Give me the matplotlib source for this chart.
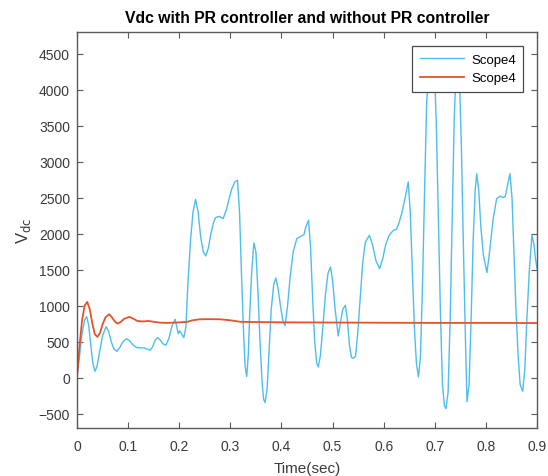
"""Vdc with and without PR controller, MATLAB scope style."""

import matplotlib
import matplotlib.pyplot as plt
import numpy as np

matplotlib.use("agg")

# blue trace (without PR controller)
t_blue = [
    0.000, 0.005, 0.010, 0.015, 0.019, 0.023, 0.027, 0.031, 0.035, 0.039,
    0.044, 0.050, 0.057, 0.062, 0.067, 0.072, 0.078, 0.084, 0.090, 0.097,
    0.103, 0.110, 0.117, 0.125, 0.132, 0.138, 0.143, 0.148, 0.153, 0.158,
    0.163, 0.168, 0.174, 0.180, 0.186, 0.192, 0.196, 0.198, 0.201, 0.205,
    0.209, 0.213, 0.217, 0.222, 0.227, 0.232, 0.237, 0.242, 0.247, 0.252,
    0.257, 0.262, 0.267, 0.271, 0.278, 0.286, 0.293, 0.298, 0.303, 0.309,
    0.314, 0.318, 0.322, 0.326, 0.329, 0.332, 0.335, 0.338, 0.342, 0.346,
    0.350, 0.354, 0.358, 0.362, 0.365, 0.368, 0.372, 0.376, 0.380, 0.385,
    0.389, 0.393, 0.398, 0.403, 0.407, 0.412, 0.417, 0.423, 0.430, 0.437,
    0.444, 0.448, 0.453, 0.457, 0.461, 0.465, 0.469, 0.472, 0.476, 0.481,
    0.486, 0.491, 0.496, 0.500, 0.505, 0.511, 0.515, 0.520, 0.525, 0.529,
    0.533, 0.537, 0.541, 0.545, 0.549, 0.554, 0.559, 0.564, 0.572, 0.578,
    0.585, 0.592, 0.598, 0.604, 0.611, 0.619, 0.625, 0.630, 0.636, 0.642,
    0.648, 0.652, 0.656, 0.660, 0.664, 0.668, 0.672, 0.676, 0.680, 0.684,
    0.689, 0.694, 0.699, 0.703, 0.707, 0.711, 0.715, 0.719, 0.722, 0.726,
    0.730, 0.734, 0.738, 0.742, 0.745, 0.748, 0.752, 0.756, 0.760, 0.763,
    0.767, 0.771, 0.775, 0.779, 0.782, 0.786, 0.790, 0.795, 0.802, 0.808,
    0.814, 0.821, 0.828, 0.834, 0.838, 0.843, 0.847, 0.851, 0.855, 0.859,
    0.863, 0.867, 0.872, 0.876, 0.880, 0.885, 0.890, 0.894, 0.897, 0.900,
]
v_blue = [
    0, 300, 620, 800, 847, 720, 450, 200, 88, 150,
    350, 580, 708, 640, 500, 400, 365, 420, 500, 542,
    510, 450, 417, 415, 412, 395, 380, 430, 520, 555,
    520, 470, 450, 550, 720, 810, 680, 611, 650, 600,
    555, 700, 1300, 1900, 2300, 2477, 2300, 1950, 1750, 1690,
    1800, 2000, 2150, 2222, 2240, 2208, 2350, 2500, 2625, 2720,
    2740, 2300, 1400, 600, 150, 14, 300, 900, 1500, 1870,
    1750, 1200, 500, -50, -300, -347, -150, 400, 950, 1300,
    1384, 1250, 1000, 780, 722, 1000, 1400, 1750, 1930, 1960,
    1986, 2100, 2185, 1800, 1100, 500, 200, 148, 300, 700,
    1150, 1450, 1537, 1350, 950, 579, 750, 950, 1004, 800,
    450, 280, 270, 300, 600, 1100, 1600, 1880, 1977, 1850,
    1620, 1514, 1650, 1850, 1980, 2046, 2060, 2150, 2300, 2500,
    2718, 2300, 1500, 700, 200, 9, 300, 1300, 2600, 3800,
    4450, 4550, 4350, 3500, 2200, 900, -100, -400, -430, -200,
    800, 2200, 3600, 4350, 4450, 4200, 3200, 1800, 500, -338,
    -100, 800, 1900, 2600, 2833, 2600, 2100, 1700, 1458, 1800,
    2200, 2486, 2520, 2500, 2520, 2700, 2833, 2500, 1700, 900,
    300, -100, -190, 100, 800, 1500, 1977, 1850, 1650, 1514,
]

# red trace (with PR controller)
t_red = [
    0.000, 0.005, 0.010, 0.015, 0.020, 0.025, 0.030, 0.035, 0.040, 0.045,
    0.050, 0.056, 0.063, 0.068, 0.074, 0.079, 0.085, 0.092, 0.102, 0.110,
    0.117, 0.123, 0.130, 0.140, 0.150, 0.162, 0.175, 0.194, 0.205, 0.215,
    0.225, 0.240, 0.260, 0.280, 0.300, 0.320, 0.350, 0.400, 0.500, 0.600,
    0.700, 0.800, 0.900,
]
v_red = [
    0, 450, 800, 1000, 1051, 950, 750, 600, 565, 620,
    740, 840, 880, 840, 780, 750, 770, 815, 843, 820,
    790, 782, 780, 787, 775, 764, 760, 764, 770, 773,
    795, 810, 812, 810, 796, 775, 772, 768, 765, 762,
    760, 760, 758,
]

legend_labels = ["Scope4", "Scope4"]
x_ticks = [0, 0.1, 0.2, 0.3, 0.4, 0.5, 0.6, 0.7, 0.8, 0.9]
y_ticks = [-500, 0, 500, 1000, 1500, 2000, 2500, 3000, 3500, 4000, 4500]

plt.rcParams["font.family"] = ["Liberation Sans", "DejaVu Sans"]

fig = plt.figure(figsize=(5.48, 4.77), dpi=100)
ax = fig.add_axes([0.1405, 0.1006, 0.8395, 0.8302])

ax.plot(t_blue, v_blue, color="#4DBEEE", linewidth=1.0, label=legend_labels[0])
ax.plot(t_red, v_red, color="#E5532B", linewidth=1.3, label=legend_labels[1])

ax.set_xlim(0, 0.9)
ax.set_ylim(-700, 4800)
ax.set_xticks(x_ticks)
ax.set_xticklabels([f"{x:g}" for x in x_ticks])
ax.set_yticks(y_ticks)

axis_grey = "#5a5a5a"
for side in ax.spines.values():
    side.set_color(axis_grey)
    side.set_linewidth(1.0)
ax.tick_params(direction="in", top=True, right=True, length=4, width=0.8,
               colors=axis_grey, labelcolor="#3a3a3a", labelsize=10)
ax.tick_params(axis="x", pad=8)
ax.tick_params(axis="y", pad=5)

ax.set_title("Vdc with PR controller and without PR controller",
             fontsize=11.3, fontweight="bold", pad=7)
ax.set_xlabel("Time(sec)", fontsize=11, color="#3a3a3a", labelpad=6)
ax.set_ylabel(r"V$_{\rm dc}$", fontsize=12, color="#3a3a3a", labelpad=4)

leg = ax.legend(loc="upper right", bbox_to_anchor=(0.9696, 0.9646),
                borderaxespad=0, fontsize=9.5, handlelength=3.4,
                fancybox=False, framealpha=1, edgecolor="#4a4a4a",
                borderpad=0.55, labelspacing=0.5, handletextpad=0.5)
leg.get_frame().set_linewidth(0.9)

fig.savefig("out.png", dpi=100)
plt.close()
